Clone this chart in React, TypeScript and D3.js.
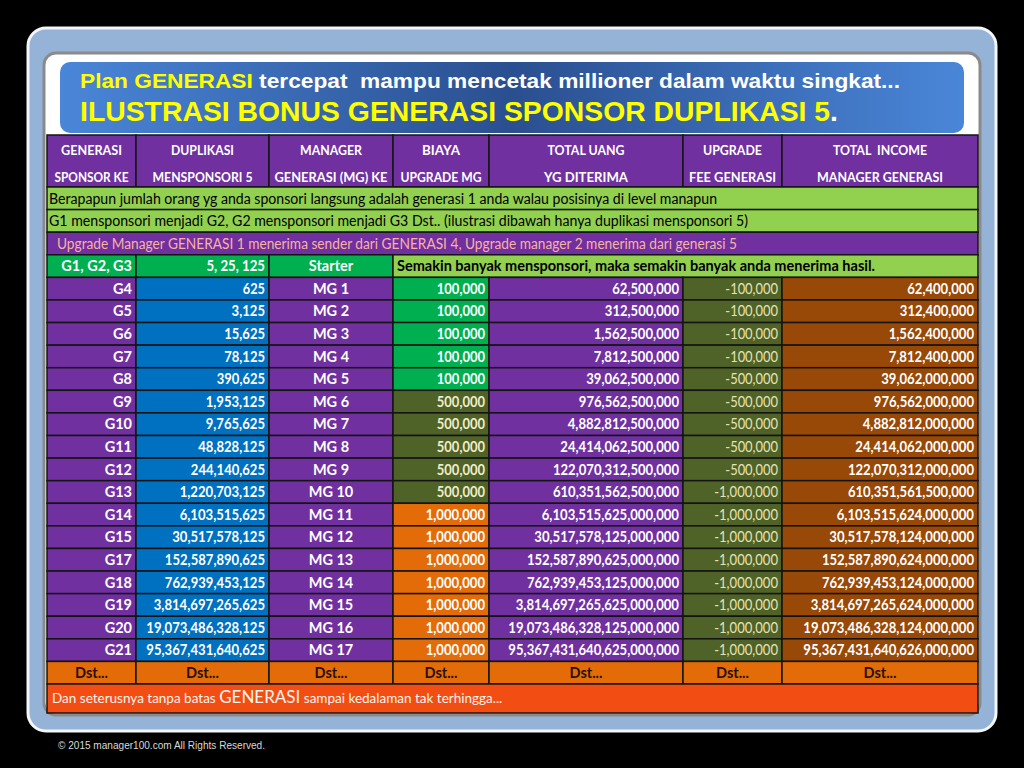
import React from "react";
import * as d3 from "d3";

const headersTop = ["GENERASI", "DUPLIKASI", "MANAGER", "BIAYA", "TOTAL UANG", "UPGRADE", "TOTAL  INCOME"];
const headersBottom = ["SPONSOR KE", "MENSPONSORI 5", "GENERASI (MG) KE", "UPGRADE MG", "YG DITERIMA", "FEE GENERASI", "MANAGER GENERASI"];

const infoLines = [
  "Berapapun jumlah orang yg anda sponsori langsung adalah generasi 1 anda walau posisinya di level manapun",
  "G1 mensponsori menjadi G2, G2 mensponsori menjadi G3 Dst.. (ilustrasi dibawah hanya duplikasi mensponsori 5)",
  "Upgrade Manager GENERASI 1 menerima sender dari GENERASI 4, Upgrade manager 2 menerima dari generasi 5",
];
const starterRow = ["G1, G2, G3", "5, 25, 125", "Starter"];
const starterNote = "Semakin banyak mensponsori, maka semakin banyak anda menerima hasil.";

const generations = ["G4", "G5", "G6", "G7", "G8", "G9", "G10", "G11", "G12", "G13", "G14", "G15", "G17", "G18", "G19", "G20", "G21"];
const duplikasi = ["625", "3,125", "15,625", "78,125", "390,625", "1,953,125", "9,765,625", "48,828,125", "244,140,625", "1,220,703,125", "6,103,515,625", "30,517,578,125", "152,587,890,625", "762,939,453,125", "3,814,697,265,625", "19,073,486,328,125", "95,367,431,640,625"];
const managers = ["MG 1", "MG 2", "MG 3", "MG 4", "MG 5", "MG 6", "MG 7", "MG 8", "MG 9", "MG 10", "MG 11", "MG 12", "MG 13", "MG 14", "MG 15", "MG 16", "MG 17"];
const biaya = ["100,000", "100,000", "100,000", "100,000", "100,000", "500,000", "500,000", "500,000", "500,000", "500,000", "1,000,000", "1,000,000", "1,000,000", "1,000,000", "1,000,000", "1,000,000", "1,000,000"];
const totalUang = ["62,500,000", "312,500,000", "1,562,500,000", "7,812,500,000", "39,062,500,000", "976,562,500,000", "4,882,812,500,000", "24,414,062,500,000", "122,070,312,500,000", "610,351,562,500,000", "6,103,515,625,000,000", "30,517,578,125,000,000", "152,587,890,625,000,000", "762,939,453,125,000,000", "3,814,697,265,625,000,000", "19,073,486,328,125,000,000", "95,367,431,640,625,000,000"];
const upgradeFee = ["-100,000", "-100,000", "-100,000", "-100,000", "-500,000", "-500,000", "-500,000", "-500,000", "-500,000", "-1,000,000", "-1,000,000", "-1,000,000", "-1,000,000", "-1,000,000", "-1,000,000", "-1,000,000", "-1,000,000"];
const totalIncome = ["62,400,000", "312,400,000", "1,562,400,000", "7,812,400,000", "39,062,000,000", "976,562,000,000", "4,882,812,000,000", "24,414,062,000,000", "122,070,312,000,000", "610,351,561,500,000", "6,103,515,624,000,000", "30,517,578,124,000,000", "152,587,890,624,000,000", "762,939,453,124,000,000", "3,814,697,265,624,000,000", "19,073,486,328,124,000,000", "95,367,431,640,626,000,000"];

const dstLabel = "Dst...";
const finalParts = ["Dan seterusnya tanpa batas ", "GENERASI", " sampai kedalaman tak terhingga..."];
const titleLine1 = ["Plan GENERASI", " tercepat  mampu mencetak millioner dalam waktu singkat..."];
const titleLine2 = ["ILUSTRASI BONUS GENERASI SPONSOR DUPLIKASI 5", "."];
const copyright = "\u00A9 2015 manager100.com  All Rights Reserved.";

// layout (styles)
const colWidths = [89, 133, 124, 96, 194, 99, 196];
const colAlign = ["end", "end", "middle", "end", "end", "end", "end"];
const colFill = ["#7030a0", "#0070c0", "#7030a0", null, "#7030a0", "#4f6228", "#984807"];
const colText = ["#ffffff", "#ffffff", "#ffffff", null, "#ffffff", "#e6e2b4", "#ffffff"];
const headerTopWidths = [61, 63, 62, 38, 77, 59, 94];
const headerBottomWidths = [74, 100, 113, 81, 84, 87, 126];
const biayaFill: Record<string, string> = { "100,000": "#00b050", "500,000": "#4f6228", "1,000,000": "#e36c09" };
const biayaText: Record<string, string> = { "100,000": "#ffffff", "500,000": "#f1ecc8", "1,000,000": "#ffffff" };

const FONT = "Lato, 'Open Sans', sans-serif";
const TITLE_FONT = "'Liberation Sans Narrow', 'Liberation Sans', Arial, sans-serif";
const GRID = "#141414";

// approximate Calibri-bold advance widths for numeric strings (em)
const numWidth = (s: string, size: number) => {
  let w = 0;
  for (const ch of s) {
    if (ch >= "0" && ch <= "9") w += 0.507;
    else if (ch === ",") w += 0.258;
    else if (ch === "-") w += 0.306;
    else if (ch === " ") w += 0.226;
    else return null;
  }
  return w * size;
};

export default function App() {
  const W = 1024, H = 768;
  const cum = [0, ...d3.cumsum(colWidths)];
  const x = d3.scaleLinear().domain([0, cum[cum.length - 1]]).range([47, 978]);
  const edges = cum.map((c) => x(c));

  const rowKeys = ["info0", "info1", "info2", "starter", ...generations, "dst"];
  const y = d3.scaleBand<string>().domain(rowKeys).range([187, 684]).padding(0);
  const rh = y.bandwidth();
  const headerTop = 135, headerBottom = 187;
  const finalTop = 684, finalBottom = 713;

  const rows = generations.map((g, i) => [g, duplikasi[i], managers[i], biaya[i], totalUang[i], upgradeFee[i], totalIncome[i]]);

  const cellText = (ci: number, yy: number, txt: string, fill: string, weight = 700, size = 14.5) => {
    const a = colAlign[ci];
    const tx = a === "end" ? edges[ci + 1] - 4 : a === "middle" ? (edges[ci] + edges[ci + 1]) / 2 : edges[ci] + 4;
    const tl = numWidth(txt, 14.6);
    return (
      <text x={tx} y={yy + rh / 2} dy="0.36em" textAnchor={a} fill={fill} fontFamily={FONT} fontWeight={weight} fontSize={size}
        {...(tl ? { textLength: tl, lengthAdjust: "spacingAndGlyphs" } : {})}>
        {txt}
      </text>
    );
  };

  return (
    <svg width={W} height={H} style={{ position: "absolute", left: 0, top: 0, background: "#000" }}>
      <defs>
        <linearGradient id="titleGrad" x1="0" x2="1" y1="0" y2="0">
          <stop offset="0%" stopColor="#4a86d8" />
          <stop offset="50%" stopColor="#2a4f90" />
          <stop offset="100%" stopColor="#4a86d8" />
        </linearGradient>
      </defs>
      <rect x={0} y={0} width={W} height={H} fill="#000" />
      {/* outer panel */}
      <rect x={28} y={28} width={968} height={703} rx={18} fill="#95b3d7" stroke="#f4f6fa" strokeWidth={3} />
      {/* inner panel */}
      <rect x={44} y={53} width={936} height={662} rx={12} fill="#ffffff" stroke="#8a8a8a" strokeWidth={3} />
      {/* title box */}
      <rect x={60} y={62} width={904} height={71} rx={10} fill="url(#titleGrad)" />
      <text x={80} y={88} fontFamily={TITLE_FONT} fontWeight={700} fontSize={21} textLength={820} lengthAdjust="spacingAndGlyphs" style={{ whiteSpace: "pre" }}>
        <tspan fill="#ffff00">{titleLine1[0]}</tspan>
        <tspan fill="#ffffff">{titleLine1[1]}</tspan>
      </text>
      <text x={80} y={121} fontFamily={TITLE_FONT} fontWeight={700} fontSize={28} textLength={758} lengthAdjust="spacingAndGlyphs">
        <tspan fill="#ffff00">{titleLine2[0]}</tspan>
        <tspan fill="#ffffff">{titleLine2[1]}</tspan>
      </text>

      {/* header */}
      {headersTop.map((h, i) => (
        <g key={"h" + i}>
          <rect x={edges[i]} y={headerTop} width={edges[i + 1] - edges[i]} height={headerBottom - headerTop} fill="#7030a0" stroke={GRID} strokeWidth={1.5} />
          <text x={(edges[i] + edges[i + 1]) / 2} y={headerTop + 15} dy="0.36em" textAnchor="middle" fill="#ffffff" fontFamily={FONT} fontWeight={700} fontSize={14} textLength={headerTopWidths[i]} lengthAdjust="spacingAndGlyphs" style={{ whiteSpace: "pre" }}>
            {h}
          </text>
          <text x={(edges[i] + edges[i + 1]) / 2} y={headerTop + 42} dy="0.36em" textAnchor="middle" fill="#ffffff" fontFamily={FONT} fontWeight={700} fontSize={14} textLength={headerBottomWidths[i]} lengthAdjust="spacingAndGlyphs">
            {headersBottom[i]}
          </text>
        </g>
      ))}

      {/* info rows */}
      {infoLines.map((t, i) => {
        const yy = y("info" + i)!;
        const purple = i === 2;
        const widths = [668, 699, 680];
        return (
          <g key={"info" + i}>
            <rect x={edges[0]} y={yy} width={edges[7] - edges[0]} height={rh} fill={purple ? "#7030a0" : "#92d050"} stroke={GRID} strokeWidth={1.5} />
            <text x={purple ? 57 : 49} y={yy + rh / 2} dy="0.36em" fill={purple ? "#f7b3a0" : "#000"} fontFamily={FONT} fontWeight={400} fontSize={15.5} textLength={widths[i]} lengthAdjust="spacingAndGlyphs">
              {t}
            </text>
          </g>
        );
      })}

      {/* starter row */}
      {(() => {
        const yy = y("starter")!;
        return (
          <g>
            {starterRow.map((t, i) => (
              <g key={"s" + i}>
                <rect x={edges[i]} y={yy} width={edges[i + 1] - edges[i]} height={rh} fill="#00b050" stroke={GRID} strokeWidth={1.5} />
                {cellText(i, yy, t, "#ffffff")}
              </g>
            ))}
            <rect x={edges[3]} y={yy} width={edges[7] - edges[3]} height={rh} fill="#92d050" stroke={GRID} strokeWidth={1.5} />
            <text x={edges[3] + 4} y={yy + rh / 2} dy="0.36em" fill="#000" fontFamily={FONT} fontWeight={700} fontSize={14.5} textLength={478} lengthAdjust="spacingAndGlyphs">
              {starterNote}
            </text>
          </g>
        );
      })()}

      {/* data rows */}
      {rows.map((r, ri) => {
        const yy = y(generations[ri])!;
        return (
          <g key={"r" + ri}>
            {r.map((v, ci) => {
              const fill = ci === 3 ? biayaFill[v] : (colFill[ci] as string);
              const tc = ci === 3 ? biayaText[v] : (colText[ci] as string);
              return (
                <g key={ci}>
                  <rect x={edges[ci]} y={yy} width={edges[ci + 1] - edges[ci]} height={rh} fill={fill} stroke={GRID} strokeWidth={1.5} />
                  {cellText(ci, yy, v, tc, ci === 5 ? 400 : 700)}
                </g>
              );
            })}
          </g>
        );
      })}

      {/* dst row */}
      {(() => {
        const yy = y("dst")!;
        return colWidths.map((_, i) => (
          <g key={"d" + i}>
            <rect x={edges[i]} y={yy} width={edges[i + 1] - edges[i]} height={rh} fill="#e36c09" stroke={GRID} strokeWidth={1.5} />
            <text x={(edges[i] + edges[i + 1]) / 2} y={yy + rh / 2} dy="0.36em" textAnchor="middle" fill="#2a1000" fontFamily={FONT} fontWeight={700} fontSize={14.5}>
              {dstLabel}
            </text>
          </g>
        ));
      })()}

      {/* final row */}
      <rect x={edges[0]} y={finalTop} width={edges[7] - edges[0]} height={finalBottom - finalTop} fill="#f24e14" stroke={GRID} strokeWidth={1.5} />
      <text x={52} y={(finalTop + finalBottom) / 2} dy="0.36em" fill="#fff4ee" fontFamily={FONT} fontWeight={400} fontSize={13.5} style={{ whiteSpace: "pre" }}>
        <tspan>{finalParts[0]}</tspan>
        <tspan fontSize={17}>{finalParts[1]}</tspan>
        <tspan>{finalParts[2]}</tspan>
      </text>

      {/* copyright */}
      <text x={58} y={749} fill="#d8d8d8" fontFamily={TITLE_FONT} fontSize={10} textLength={207} lengthAdjust="spacingAndGlyphs">
        {copyright}
      </text>
    </svg>
  );
}
